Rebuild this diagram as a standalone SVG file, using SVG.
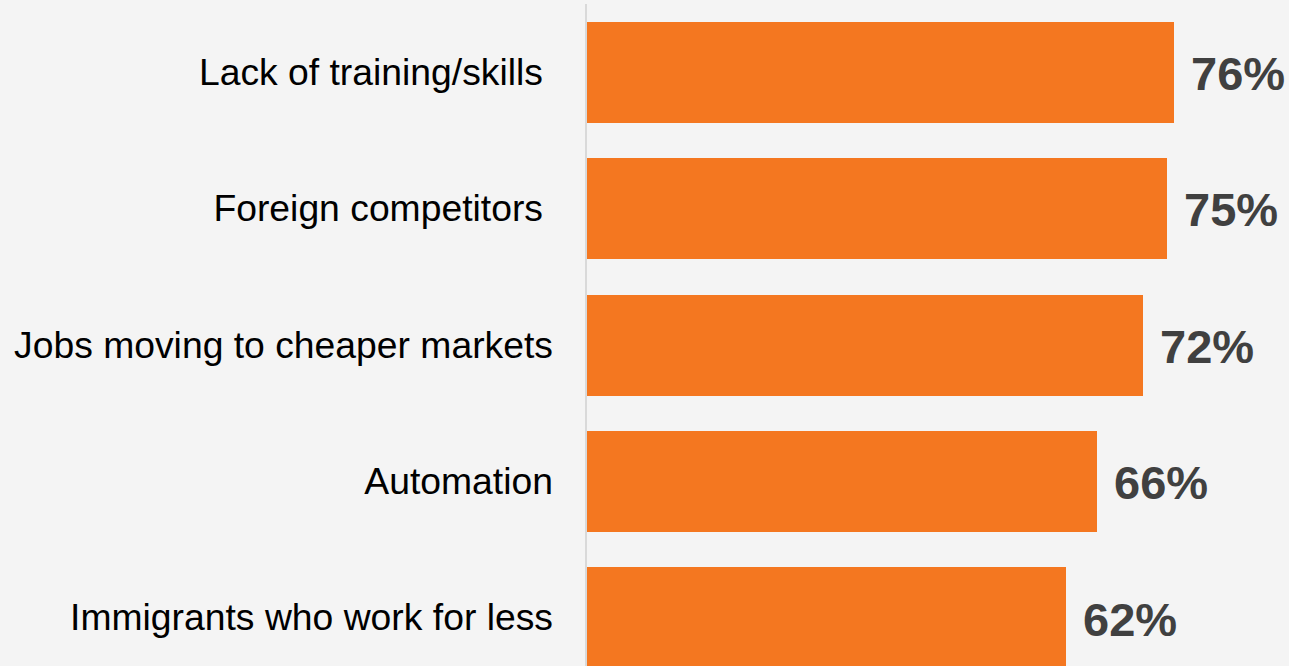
<svg xmlns="http://www.w3.org/2000/svg" width="1289" height="666" viewBox="0 0 1289 666">
<style>
.bar{fill:#F47720}
.lbl{font-family:"Liberation Sans",Arial,sans-serif;font-size:37.3px;fill:#000;text-anchor:end}
.val{font-family:"Liberation Sans",Arial,sans-serif;font-size:47px;font-weight:bold;fill:#404040}
</style>
<rect x="0" y="0" width="1289" height="666" fill="#f4f4f4"/>
<g id="axis"><line x1="586" y1="4" x2="586" y2="666" stroke="#d9d9d9" stroke-width="2"/></g>
<g id="row1">
<text class="lbl" x="543" y="85">Lack of training/skills</text>
<rect class="bar" x="587" y="22" width="587" height="101"/>
<text class="val" x="1191" y="90">76%</text>
</g>
<g id="row2">
<text class="lbl" x="543" y="221">Foreign competitors</text>
<rect class="bar" x="587" y="158" width="580" height="101"/>
<text class="val" x="1184" y="226">75%</text>
</g>
<g id="row3">
<text class="lbl" x="553" y="358">Jobs moving to cheaper markets</text>
<rect class="bar" x="587" y="295" width="556" height="101"/>
<text class="val" x="1160" y="363">72%</text>
</g>
<g id="row4">
<text class="lbl" x="553" y="494">Automation</text>
<rect class="bar" x="587" y="431" width="510" height="101"/>
<text class="val" x="1114" y="499">66%</text>
</g>
<g id="row5">
<text class="lbl" x="553" y="630">Immigrants who work for less</text>
<rect class="bar" x="587" y="567" width="479" height="99"/>
<text class="val" x="1083" y="636">62%</text>
</g>
</svg>
